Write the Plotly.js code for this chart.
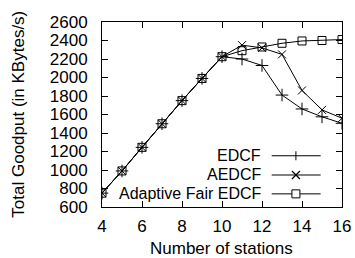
<!DOCTYPE html>
<html>
<head>
<meta charset="utf-8">
<script src="https://cdn.plot.ly/plotly-3.0.1.min.js"></script>
<style>html,body{margin:0;padding:0;background:#fff;}#chart{width:355px;height:258px;}</style>
</head>
<body>
<div id="chart"></div>
<script>
const stations = [4, 5, 6, 7, 8, 9, 10, 11, 12, 13, 14, 15, 16];
const edcf = [750, 990, 1245, 1500, 1750, 1990, 2225, 2200, 2130, 1810, 1660, 1575, 1505];
const aedcf = [750, 990, 1245, 1500, 1750, 1990, 2225, 2350, 2320, 2250, 1860, 1650, 1560];
const afedcf = [750, 990, 1245, 1500, 1750, 1990, 2225, 2290, 2330, 2370, 2395, 2400, 2410];
const seriesNames = ['EDCF', 'AEDCF', 'Adaptive Fair EDCF'];
const xTicks = [4, 6, 8, 10, 12, 14, 16];
const yTicks = [600, 800, 1000, 1200, 1400, 1600, 1800, 2000, 2200, 2400, 2600];
const xTitle = 'Number of stations';
const yTitle = 'Total Goodput (in KBytes/s)';

const FONT = 'Liberation Sans, Arial, sans-serif';
const FS = 17;
const LFS = 16;

function tr(y, name, symbol, size) {
  return {
    x: stations, y: y, name: name, type: 'scatter', mode: 'lines+markers',
    line: {color: '#000', width: 1},
    marker: {symbol: symbol, size: size, color: '#000', line: {color: '#000', width: 1}},
    showlegend: false
  };
}
const data = [
  tr(edcf, seriesNames[0], 'cross-thin', 9),
  tr(aedcf, seriesNames[1], 'x-thin', 8),
  tr(afedcf, seriesNames[2], 'square-open', 8)
];

// custom gnuplot-style legend (text left, sample right)
const legY = [0.277, 0.173, 0.071];
const annotations = seriesNames.map((n, i) => ({
  text: n, xref: 'paper', yref: 'paper', x: 0.667, y: legY[i],
  xanchor: 'right', yanchor: 'middle', showarrow: false,
  borderpad: 0, valign: 'middle',
  font: {family: FONT, size: LFS, color: '#000'}
}));
annotations.push({
  text: xTitle, xref: 'paper', yref: 'paper', x: 0.497, y: -0.226,
  xanchor: 'center', yanchor: 'middle', showarrow: false, borderpad: 0,
  font: {family: FONT, size: FS, color: '#000'}
});
annotations.push({
  text: yTitle, xref: 'paper', yref: 'paper', x: -0.347, y: 0.503,
  xanchor: 'center', yanchor: 'middle', showarrow: false, borderpad: 0, textangle: -90,
  font: {family: FONT, size: FS, color: '#000'}
});
const shapes = [];
const legLineColor = ['#000', '#808080', '#000'];
const legLineW = [1, 2, 1];
legY.forEach((y, i) => {
  shapes.push({type: 'line', xref: 'paper', yref: 'paper', x0: 0.707, x1: 0.911, y0: y, y1: y,
    line: {color: legLineColor[i], width: legLineW[i]}, layer: 'above'});
});
const mx = 0.808;
// plus
shapes.push({type: 'line', xref: 'paper', yref: 'paper', xsizemode: 'pixel', ysizemode: 'pixel',
  xanchor: mx, yanchor: legY[0], x0: 0, x1: 0, y0: -4.5, y1: 4.5, line: {color: '#000', width: 1}});
// x
shapes.push({type: 'line', xref: 'paper', yref: 'paper', xsizemode: 'pixel', ysizemode: 'pixel',
  xanchor: mx, yanchor: legY[1], x0: -4, x1: 4, y0: -4, y1: 4, line: {color: '#000', width: 1.2}});
shapes.push({type: 'line', xref: 'paper', yref: 'paper', xsizemode: 'pixel', ysizemode: 'pixel',
  xanchor: mx, yanchor: legY[1], x0: -4, x1: 4, y0: 4, y1: -4, line: {color: '#000', width: 1.2}});
// square
shapes.push({type: 'rect', xref: 'paper', yref: 'paper', xsizemode: 'pixel', ysizemode: 'pixel',
  xanchor: mx, yanchor: legY[2], x0: -4, x1: 4, y0: -4, y1: 4, fillcolor: '#fff', line: {color: '#000', width: 1}});

const layout = {
  width: 355, height: 258,
  margin: {l: 102, r: 13, t: 22, b: 51},
  paper_bgcolor: '#fff', plot_bgcolor: '#fff',
  font: {family: FONT, size: FS, color: '#000'},
  showlegend: false,
  xaxis: {
    range: [4, 16], tickvals: xTicks, ticktext: xTicks.map(String),
    ticks: 'inside', ticklen: 6, tickcolor: '#000', tickwidth: 1,
    showline: true, linecolor: '#000', linewidth: 1, mirror: 'ticks',
    showgrid: false, zeroline: false, ticklabelstandoff: 4
  },
  yaxis: {
    range: [600, 2600], tickvals: yTicks, ticktext: yTicks.map(String),
    ticks: 'inside', ticklen: 6, tickcolor: '#000', tickwidth: 1,
    showline: true, linecolor: '#000', linewidth: 1, mirror: 'ticks',
    showgrid: false, zeroline: false, ticklabelstandoff: 10
  },
  annotations: annotations,
  shapes: shapes
};
Plotly.newPlot('chart', data, layout, {displayModeBar: false, staticPlot: true});
</script>
</body>
</html>
